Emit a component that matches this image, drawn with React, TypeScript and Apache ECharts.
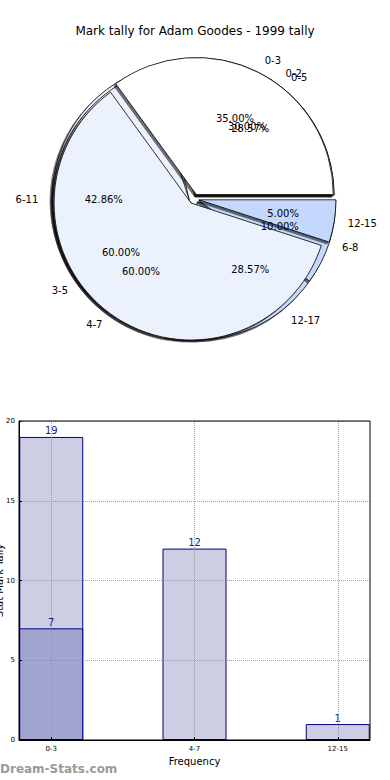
import React, { useEffect, useRef } from "react";
import * as echarts from "echarts";

// Pie data (three overlaid pies, drawn bottom to top)
const pieCNames = ["0-5", "6-11", "12-17"];
const pieCValues = [2, 3, 2];
const pieBNames = ["0-2", "3-5", "6-8"];
const pieBValues = [3, 6, 1];
const pieANames = ["0-3", "4-7", "12-15"];
const pieAValues = [7, 12, 1];
const sliceColors = ["#ffffff", "#ebf1fd", "#c4d8fd"];

// Bar data
const barCategories = ["0-3", "4-7", "12-15"];
const barTotals = [19, 12, 1];
const barHighlight = [7];

const FONT = "DejaVu Sans";
const X_MIN = -0.225;
const X_MAX = 2.225;

export default function App() {
  const ref = useRef<HTMLDivElement>(null);
  useEffect(() => {
    if (!ref.current) return;
    const chart = echarts.init(ref.current, undefined, { renderer: "svg" });
    const cx = 194;
    const cy = 199;
    const R = 137;

    const makePie = (names: string[], values: number[], z: number) => {
      const wedge = {
        type: "pie",
        center: [cx, cy],
        radius: [0, R],
        startAngle: 0,
        clockwise: false,
        z,
        silent: true,
        selectedMode: "multiple",
        selectedOffset: 5,
        avoidLabelOverlap: false,
        label: { show: false },
        labelLine: { show: false },
        emphasis: { disabled: true },
        itemStyle: {
          borderColor: "#000",
          borderWidth: 0.8,
          shadowColor: "rgba(0,0,0,0.55)",
          shadowOffsetX: -2,
          shadowOffsetY: 2,
          shadowBlur: 1,
        },
        data: names.map((n, i) => ({
          name: n,
          value: values[i],
          selected: true,
          itemStyle: { color: sliceColors[i] },
        })),
      };
      const nameLabels = {
        type: "pie",
        center: [cx, cy],
        radius: [0, R],
        startAngle: 0,
        clockwise: false,
        z: 10,
        silent: true,
        selectedMode: "multiple",
        selectedOffset: 5,
        avoidLabelOverlap: false,
        labelLayout: { hideOverlap: false },
        itemStyle: { color: "rgba(0,0,0,0)", borderWidth: 0 },
        emphasis: { disabled: true },
        label: {
          show: true,
          position: "outside",
          formatter: "{b}",
          fontSize: 10,
          fontFamily: FONT,
          color: "#000",
          distanceToLabelLine: 0,
        },
        labelLine: { show: false, length: R * 0.1, length2: 0 },
        data: names.map((n, i) => ({ name: n, value: values[i], selected: true })),
      };
      const pctLabels = {
        type: "pie",
        center: [cx, cy],
        radius: [0, R * 1.2],
        startAngle: 0,
        clockwise: false,
        z: 10,
        silent: true,
        selectedMode: "multiple",
        selectedOffset: 5,
        avoidLabelOverlap: false,
        labelLayout: { hideOverlap: false },
        itemStyle: { color: "rgba(0,0,0,0)", borderWidth: 0 },
        emphasis: { disabled: true },
        label: {
          show: true,
          position: "inside",
          formatter: (p: any) => Number(p.percent).toFixed(2) + "%",
          fontSize: 10,
          fontFamily: FONT,
          color: "#000",
        },
        labelLine: { show: false },
        data: names.map((n, i) => ({ name: n, value: values[i], selected: true })),
      };
      return [wedge, nameLabels, pctLabels];
    };

    const catPositions = barCategories.map((_, i) => i);

    const option: any = {
      animation: false,
      backgroundColor: "#ffffff",
      textStyle: { fontFamily: FONT },
      title: {
        text: "Mark tally for Adam Goodes - 1999 tally",
        left: "center",
        top: 20,
        textStyle: { fontSize: 12, fontWeight: "normal", fontFamily: FONT, color: "#000" },
      },
      grid: {
        left: 19,
        right: 20,
        top: 421,
        bottom: 40,
        containLabel: false,
        outerBoundsMode: "none",
        show: true,
        borderColor: "#000",
        borderWidth: 1,
        backgroundColor: "transparent",
        z: 6,
      },
      xAxis: {
        type: "value",
        min: X_MIN,
        max: X_MAX,
        z: 5,
        name: "Frequency",
        nameLocation: "middle",
        nameGap: 16,
        nameMoveOverlap: false,
        nameTextStyle: { fontSize: 10, color: "#000", fontFamily: FONT },
        axisLine: { show: true, onZero: false, lineStyle: { color: "#000" } },
        axisTick: {
          show: true,
          inside: true,
          length: 3,
          customValues: catPositions,
          lineStyle: { color: "#000" },
        },
        axisLabel: {
          customValues: catPositions,
          formatter: (v: number) => barCategories[Math.round(v)] ?? "",
          fontSize: 7,
          color: "#000",
          margin: 5,
          fontFamily: FONT,
        },
        splitLine: { show: false },
      },
      yAxis: {
        type: "value",
        min: 0,
        max: 20,
        interval: 5,
        z: 5,
        name: "Stat Mark Tally",
        nameLocation: "middle",
        nameGap: 15,
        nameMoveOverlap: false,
        nameTextStyle: { fontSize: 10, color: "#000", fontFamily: FONT },
        axisLine: { show: true, onZero: false, lineStyle: { color: "#000" } },
        axisTick: { show: true, inside: true, length: 3, lineStyle: { color: "#000" } },
        axisLabel: { fontSize: 7, color: "#000", margin: 4, fontFamily: FONT },
        splitLine: { show: true, lineStyle: { type: "dotted", color: "#8c8c8c", width: 1, opacity: 0.8 } },
      },
      graphic: [
        {
          type: "text",
          left: 0,
          top: 763,
          style: { text: "Dream-Stats.com", fill: "#9a9a9a", fontSize: 12, fontWeight: "bold", fontFamily: FONT },
        },
      ],
      series: [
        ...makePie(pieCNames, pieCValues, 2),
        ...makePie(pieBNames, pieBValues, 3),
        ...makePie(pieANames, pieAValues, 4),
        {
          type: "bar",
          z: 2,
          barWidth: 64,
          barGap: "-100%",
          itemStyle: { color: "#cdcde4", borderColor: "#00007f", borderWidth: 1 },
          label: { show: true, position: "top", distance: 1, color: "#1c1c8c", fontSize: 10, fontFamily: FONT },
          emphasis: { disabled: true },
          data: barTotals.map((v, i) => [i, v]),
        },
        {
          type: "bar",
          z: 3,
          barWidth: 64,
          barGap: "-100%",
          itemStyle: { color: "#a3a5d1", borderColor: "#00007f", borderWidth: 1 },
          label: { show: true, position: "top", distance: 1, color: "#1c1c8c", fontSize: 10, fontFamily: FONT },
          emphasis: { disabled: true },
          data: barHighlight.map((v, i) => [i, v]),
          markLine: {
            silent: true,
            symbol: "none",
            label: { show: false },
            emphasis: { disabled: true },
            lineStyle: { type: "dotted", color: "#8c8c8c", width: 1, opacity: 0.8 },
            data: catPositions.map((p) => ({ xAxis: p })),
            z: 5,
          },
        },
      ],
    };
    chart.setOption(option);
    return () => chart.dispose();
  }, []);
  return (
    <div
      ref={ref}
      style={{ position: "fixed", left: 0, top: 0, width: 390, height: 780, background: "#fff" }}
    />
  );
}
